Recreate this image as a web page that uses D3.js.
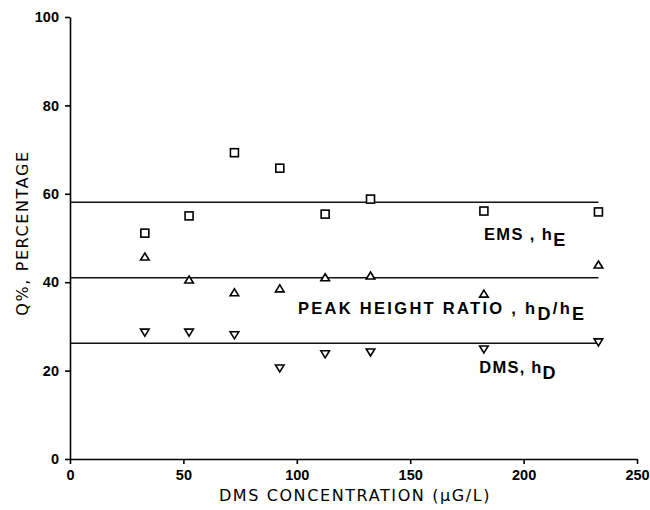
<!DOCTYPE html>
<html>
<head>
<meta charset="utf-8">
<script src="https://cdn.jsdelivr.net/npm/d3@7"></script>
<style>
  body { margin: 0; background: #fff; }
  svg text { fill: #000; }
</style>
</head>
<body>
<div id="chart"></div>
<script>
var conc = [33, 52.5, 72.5, 92.5, 112.5, 132.5, 182.5, 233]
var emsVals = [51.1, 55.0, 69.3, 65.8, 55.4, 58.8, 56.1, 55.9]
var ratioVals = [45.7, 40.5, 37.6, 38.5, 41.0, 41.4, 37.3, 43.9]
var dmsVals = [28.7, 28.7, 28.1, 20.6, 23.8, 24.2, 24.9, 26.5]
var meanLines = [58.1, 41.0, 26.2]
var xTicks = [0, 50, 100, 150, 200, 250]
var yTicks = [0, 20, 40, 60, 80, 100]

var width = 650
var height = 510
var margin = { top: 17, right: 13, bottom: 51, left: 70 }

var svg = d3.select('#chart')
  .append('svg')
  .attr('width', width)
  .attr('height', height)

var x = d3.scaleLinear()
  .domain([0, 250])
  .range([margin.left, width - margin.right])

var y = d3.scaleLinear()
  .domain([0, 100])
  .range([height - margin.bottom, margin.top])

var tickFont = '"Liberation Sans", Arial, sans-serif'

// axes
svg.append('g')
  .attr('transform', 'translate(0,' + y(0) + ')')
  .call(d3.axisBottom(x).tickValues(xTicks).tickSize(5).tickPadding(6).tickSizeOuter(0))
svg.append('g')
  .attr('transform', 'translate(' + x(0) + ',0)')
  .call(d3.axisLeft(y).tickValues(yTicks).tickSize(5).tickPadding(6).tickSizeOuter(0))

svg.selectAll('.domain, .tick line')
  .attr('stroke', '#000')
  .attr('stroke-width', 1.6)
svg.selectAll('.tick text')
  .attr('font-family', tickFont)
  .attr('font-weight', 'bold')
  .attr('font-size', 14.5)
  .attr('fill', '#000')

// axis titles
svg.append('text')
  .attr('x', 355)
  .attr('y', 501)
  .attr('text-anchor', 'middle')
  .attr('font-family', '"DejaVu Sans", sans-serif')
  .attr('font-size', 16)
  .attr('letter-spacing', 1.6)
  .text('DMS CONCENTRATION (\u00b5G/L)')

svg.append('text')
  .attr('transform', 'translate(28,' + 233 + ') rotate(-90)')
  .attr('text-anchor', 'middle')
  .attr('font-family', '"DejaVu Sans", sans-serif')
  .attr('font-size', 16)
  .attr('letter-spacing', 1.6)
  .text('Q%, PERCENTAGE')

// mean lines
svg.selectAll('.mean')
  .data(meanLines)
  .enter()
  .append('line')
  .attr('class', 'mean')
  .attr('x1', x(0))
  .attr('x2', x(233))
  .attr('y1', function (d) { return y(d) })
  .attr('y2', function (d) { return y(d) })
  .attr('stroke', '#111')
  .attr('stroke-width', 1.4)

// markers
var sq = 8
svg.selectAll('.ems')
  .data(emsVals)
  .enter()
  .append('rect')
  .attr('x', function (d, i) { return x(conc[i]) - sq / 2 })
  .attr('y', function (d) { return y(d) - sq / 2 })
  .attr('width', sq)
  .attr('height', sq)
  .attr('fill', 'white')
  .attr('stroke', '#000')
  .attr('stroke-width', 1.6)

function tri (up) {
  var s = up ? 1 : -1
  return 'M0,' + (-4 * s) + 'L4.3,' + (3 * s) + 'L-4.3,' + (3 * s) + 'Z'
}

svg.selectAll('.ratio')
  .data(ratioVals)
  .enter()
  .append('path')
  .attr('d', tri(true))
  .attr('transform', function (d, i) { return 'translate(' + x(conc[i]) + ',' + y(d) + ')' })
  .attr('fill', 'white')
  .attr('stroke', '#000')
  .attr('stroke-width', 1.6)

svg.selectAll('.dms')
  .data(dmsVals)
  .enter()
  .append('path')
  .attr('d', tri(false))
  .attr('transform', function (d, i) { return 'translate(' + x(conc[i]) + ',' + y(d) + ')' })
  .attr('fill', 'white')
  .attr('stroke', '#000')
  .attr('stroke-width', 1.6)

// series labels
function label (px, py, spacing, main, sub1, mid, sub2) {
  var t = svg.append('text')
    .attr('x', x(px))
    .attr('y', y(py))
    .attr('font-family', tickFont)
    .attr('font-weight', 'bold')
    .attr('font-size', 16.5)
    .attr('letter-spacing', spacing)
  t.append('tspan').text(main)
  t.append('tspan').attr('dy', 6).attr('font-size', 18).text(sub1)
  if (mid) {
    t.append('tspan').attr('dy', -6).text(mid)
    t.append('tspan').attr('dy', 6).attr('font-size', 18).text(sub2)
  }
}

label(182.5, 49.6, 1.4, 'EMS , h', 'E')
label(100.5, 32.7, 2.3, 'PEAK HEIGHT RATIO , h', 'D', '/h', 'E')
label(180.5, 19.4, 1.2, 'DMS, h', 'D')
</script>
</body>
</html>
